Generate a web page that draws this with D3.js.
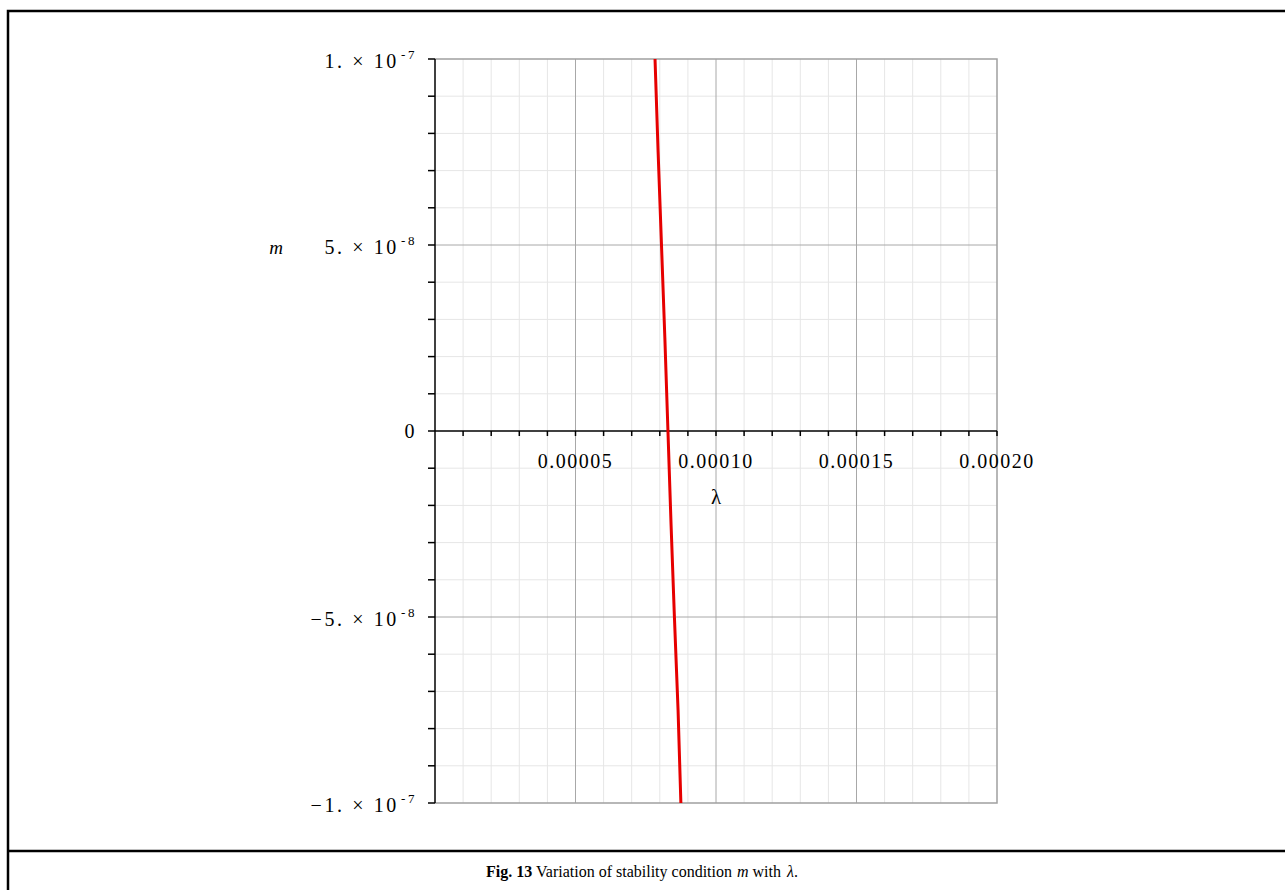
<!DOCTYPE html>
<html>
<head>
<meta charset="utf-8">
<script src="https://cdn.jsdelivr.net/npm/d3@7"></script>
<style>
  html, body { margin: 0; padding: 0; background: #fff; }
  svg { display: block; }
  text { font-family: "Liberation Serif", "Times New Roman", serif; fill: #000; }
  .tick-label { letter-spacing: 1.5px; }
  .ytick-label { letter-spacing: 2.6px; }
</style>
</head>
<body>
<svg id="fig" width="1285" height="890"></svg>
<script>
// Stability boundary: m as a function of λ
const mValues      = [1e-7, 7.5e-8, 5e-8, 2.5e-8, 0, -2.5e-8, -5e-8, -7.5e-8, -1e-7];
const lambdaValues = [7.83e-5, 7.94e-5, 8.06e-5, 8.18e-5, 8.29e-5, 8.40e-5, 8.52e-5, 8.65e-5, 8.75e-5];

const xDomain = [0, 0.0002];
const yDomain = [-1e-7, 1e-7];
const xMajorTicks = [0.00005, 0.0001, 0.00015, 0.0002];
const xTickLabels = ["0.00005", "0.00010", "0.00015", "0.00020"];
const yMajorTicks = [1e-7, 5e-8, 0, -5e-8, -1e-7];
const yTickLabels = [
  { pre: "1. \u00d7 10", exp: "-7" },
  { pre: "5. \u00d7 10", exp: "-8" },
  { pre: "0", exp: "" },
  { pre: "\u22125. \u00d7 10", exp: "-8" },
  { pre: "\u22121. \u00d7 10", exp: "-7" }
];

const svg = d3.select("#fig");

// Outer figure frame and caption separator
svg.append("path")
  .attr("d", "M8,890 V11 H1290")
  .attr("fill", "none").attr("stroke", "#000").attr("stroke-width", 2.5);
svg.append("line")
  .attr("x1", 8).attr("x2", 1290).attr("y1", 851).attr("y2", 851)
  .attr("stroke", "#000").attr("stroke-width", 2.5);

const plotL = 435, plotR = 997, plotT = 59, plotB = 803;
const x = d3.scaleLinear().domain(xDomain).range([plotL, plotR]);
const y = d3.scaleLinear().domain(yDomain).range([plotB, plotT]);

const xMinor = d3.range(1, 20).map(i => i * 1e-5);
const yMinor = d3.range(-9, 10).map(i => i * 1e-8);

// Minor grid
const grid = svg.append("g");
grid.selectAll(".vminor").data(xMinor.filter(v => Math.round(v / 1e-5) % 5 !== 0))
  .join("line")
  .attr("x1", d => x(d)).attr("x2", d => x(d))
  .attr("y1", plotT).attr("y2", plotB)
  .attr("stroke", "#e6e6e6").attr("stroke-width", 1);
grid.selectAll(".hminor").data(yMinor.filter(v => Math.round(v / 1e-8) % 5 !== 0))
  .join("line")
  .attr("x1", plotL).attr("x2", plotR)
  .attr("y1", d => y(d)).attr("y2", d => y(d))
  .attr("stroke", "#e6e6e6").attr("stroke-width", 1);

// Major grid
grid.selectAll(".vmajor").data(xMajorTicks.slice(0, 3))
  .join("line")
  .attr("x1", d => x(d)).attr("x2", d => x(d))
  .attr("y1", plotT).attr("y2", plotB)
  .attr("stroke", "#a8a8a8").attr("stroke-width", 1);
grid.selectAll(".hmajor").data([5e-8, -5e-8])
  .join("line")
  .attr("x1", plotL).attr("x2", plotR)
  .attr("y1", d => y(d)).attr("y2", d => y(d))
  .attr("stroke", "#a8a8a8").attr("stroke-width", 1);

// Plot frame (top, right, bottom)
svg.append("path")
  .attr("d", `M${plotL},${plotT} H${plotR} V${plotB} H${plotL}`)
  .attr("fill", "none").attr("stroke", "#a0a0a0").attr("stroke-width", 1.5);

// Axes
const axes = svg.append("g");
axes.append("line")
  .attr("x1", plotL).attr("x2", plotL).attr("y1", plotT).attr("y2", plotB)
  .attr("stroke", "#000").attr("stroke-width", 1.5);
axes.append("line")
  .attr("x1", plotL).attr("x2", plotR).attr("y1", y(0)).attr("y2", y(0))
  .attr("stroke", "#000").attr("stroke-width", 1.5);

// y ticks
axes.selectAll(".yt").data(d3.range(-10, 11).map(i => i * 1e-8))
  .join("line")
  .attr("x1", plotL - 7).attr("x2", plotL)
  .attr("y1", d => y(d)).attr("y2", d => y(d))
  .attr("stroke", "#000").attr("stroke-width", 1.5);
// x ticks
axes.selectAll(".xt").data(d3.range(1, 21).map(i => i * 1e-5))
  .join("line")
  .attr("x1", d => x(d)).attr("x2", d => x(d))
  .attr("y1", y(0)).attr("y2", y(0) + 5)
  .attr("stroke", "#000").attr("stroke-width", 1.5);

// x tick labels
axes.selectAll(".xl").data(xMajorTicks)
  .join("text")
  .attr("class", "tick-label")
  .attr("x", d => x(d)).attr("y", y(0) + 37)
  .attr("text-anchor", "middle")
  .attr("font-size", 20)
  .text((d, i) => xTickLabels[i]);

// y tick labels
const yl = axes.selectAll(".yl").data(yMajorTicks)
  .join("text")
  .attr("class", "ytick-label")
  .attr("x", 417).attr("y", d => y(d) + (d === 0 ? 7 : 9))
  .attr("text-anchor", "end")
  .attr("font-size", 20);
yl.append("tspan").text((d, i) => yTickLabels[i].pre);
yl.append("tspan")
  .attr("dx", 2).attr("dy", -9).attr("font-size", 13)
  .text((d, i) => yTickLabels[i].exp);

// Axis titles
svg.append("text")
  .attr("x", 276).attr("y", y(5e-8) + 9)
  .attr("text-anchor", "middle")
  .attr("font-size", 19).attr("font-style", "italic")
  .text("m");
svg.append("text")
  .attr("x", 716).attr("y", y(0) + 73)
  .attr("text-anchor", "middle")
  .attr("font-size", 21)
  .text("\u03bb");

// Curve
const line = d3.line().x(d => x(d[0])).y(d => y(d[1]));
svg.append("path")
  .datum(lambdaValues.map((l, i) => [l, mValues[i]]))
  .attr("d", line)
  .attr("fill", "none").attr("stroke", "#e60000").attr("stroke-width", 3);

// Caption
const cap = svg.append("text")
  .attr("x", 642).attr("y", 877)
  .attr("text-anchor", "middle")
  .attr("font-size", 16);
cap.append("tspan").attr("font-weight", "bold").text("Fig. 13");
cap.append("tspan").text(" Variation of stability condition ");
cap.append("tspan").attr("dx", 1).attr("font-style", "italic").text("m");
cap.append("tspan").attr("dx", 4).text("with");
cap.append("tspan").attr("dx", 6).attr("font-style", "italic").text("\u03bb");
cap.append("tspan").text(".");
</script>
</body>
</html>
